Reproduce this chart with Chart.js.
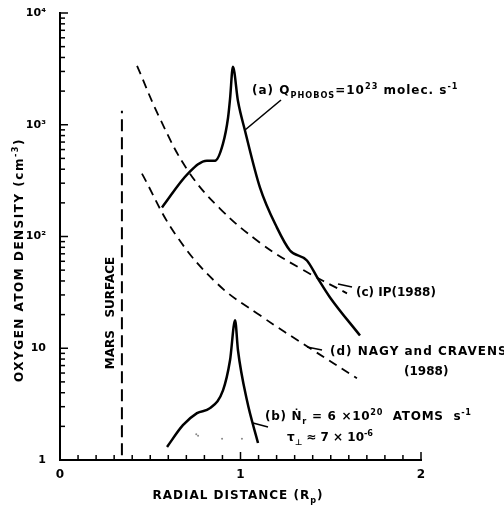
<!DOCTYPE html>
<html>
<head>
<meta charset="utf-8">
<script src="https://cdn.jsdelivr.net/npm/chart.js@4.4.1/dist/chart.umd.min.js"></script>
<style>
  html, body { margin: 0; padding: 0; background: #fff; }
  #div_grafico { width: 504px; height: 507px; }
</style>
</head>
<body>
<div id="div_grafico"><canvas id="grafico" width="504" height="507"></canvas></div>
<script>
// curve (a) - Phobos source, solid
const distA = [0.565, 0.709, 0.814, 0.859, 0.903, 0.931, 0.942, 0.958, 0.986, 1.025, 1.108, 1.202, 1.274, 1.368, 1.429, 1.496, 1.662];
const densA = [182, 365, 477, 477, 677, 1155, 1700, 3300, 1630, 884, 274, 120, 75, 61, 42, 28.5, 13];

// curve (b) - solid, lower
const distB = [0.593, 0.681, 0.759, 0.831, 0.903, 0.942, 0.970, 0.986, 1.036, 1.097];
const densB = [1.31, 2.05, 2.63, 2.91, 4.2, 7.8, 17.8, 9.6, 3.4, 1.42];

// faint dots under (b)
const distB2 = [0.755, 0.765, 0.898, 1.008];
const densB2 = [1.7, 1.65, 1.55, 1.55];

// curve (c) IP(1988), dashed
const distC = [0.427, 0.554, 0.709, 0.886, 1.108, 1.330, 1.590];
const densC = [3365, 1132, 388, 178, 88, 52, 31];

// curve (d) Nagy and Cravens (1988), dashed
const distD = [0.454, 0.637, 0.870, 1.108, 1.385, 1.645];
const densD = [365, 106, 38, 19.7, 10, 5.4];

// Mars surface marker
const distM = [0.343, 0.343];
const densM = [1.1, 1333];

// axis tick labels
const xLabels = { 0: "0", 1: "1", 2: "2" };
const yLabels = { 1: "1", 10: "10", 100: "10²", 1000: "10³", 10000: "10⁴" };

const FONTE = "'DejaVu Sans', 'Liberation Sans', sans-serif";

function pontos(xs, ys) {
  return xs.map(function (x, i) { return { x: x, y: ys[i] }; });
}

// escreve texto com sub/sobrescrito
function textoRico(ctx, x, y, partes, tam, esp) {
  var cx = x;
  ctx.letterSpacing = (esp || 0) + "px";
  partes.forEach(function (p) {
    var t = p[0], modo = p[1] || "n";
    var fs = tam, dy = 0;
    if (modo === "sup") { fs = tam * 0.68; dy = -tam * 0.45; }
    if (modo === "sub") { fs = tam * 0.68; dy = tam * 0.3; }
    ctx.font = "bold " + fs + "px " + FONTE;
    ctx.fillText(t, cx, y + dy);
    cx += ctx.measureText(t).width;
  });
  ctx.letterSpacing = "0px";
  return cx - x;
}

function larguraRica(ctx, partes, tam, esp) {
  var w = 0;
  ctx.letterSpacing = (esp || 0) + "px";
  partes.forEach(function (p) {
    var modo = p[1] || "n";
    var fs = (modo === "n") ? tam : tam * 0.68;
    ctx.font = "bold " + fs + "px " + FONTE;
    w += ctx.measureText(p[0]).width;
  });
  ctx.letterSpacing = "0px";
  return w;
}

function linha(ctx, x1, y1, x2, y2) {
  ctx.beginPath();
  ctx.moveTo(x1, y1);
  ctx.lineTo(x2, y2);
  ctx.stroke();
}

const marcasInternas = {
  id: "marcasInternas",
  afterDraw: function (chart) {
    const ctx = chart.ctx;
    const xs = chart.scales.x, ys = chart.scales.y;
    const esq = chart.chartArea.left, base = chart.chartArea.bottom;
    ctx.save();
    ctx.strokeStyle = "#000";
    ctx.lineWidth = 1.5;
    // ticks do eixo y (pra dentro)
    for (var e = 0; e < 4; e++) {
      for (var m = 1; m <= 9; m++) {
        var py = ys.getPixelForValue(m * Math.pow(10, e));
        linha(ctx, esq, py, esq + (m === 1 ? 8 : 5), py);
      }
    }
    var topo = ys.getPixelForValue(10000);
    linha(ctx, esq, topo, esq + 8, topo);
    // ticks do eixo x
    for (var i = 0; i <= 20; i++) {
      var px = xs.getPixelForValue(i / 10);
      linha(ctx, px, base, px, base - (i % 10 === 0 ? 8 : 5));
    }

    // textos e linhas de chamada
    ctx.fillStyle = "#000";
    ctx.textBaseline = "alphabetic";
    ctx.textAlign = "left";
    ctx.lineWidth = 1.6;

    textoRico(ctx, 252, 94, [["(a) Q"], ["PHOBOS", "sub"], ["=10"], ["23", "sup"], [" molec. s"], ["-1", "sup"]], 12, 1);
    linha(ctx, 245, 130, 281, 100);

    textoRico(ctx, 356, 296, [["(c) IP(1988)"]], 12, 0);
    linha(ctx, 338, 284, 352, 287);

    textoRico(ctx, 330, 355, [["(d) NAGY and CRAVENS"]], 12, 1);
    textoRico(ctx, 404, 375, [["(1988)"]], 12, 0);
    linha(ctx, 307, 347, 322, 350);

    textoRico(ctx, 265, 420, [["(b) Ṅ"], ["r", "sub"], [" = 6 ×10"], ["20", "sup"], ["  ATOMS  s"], ["-1", "sup"]], 12, 0.7);
    textoRico(ctx, 287, 441, [["τ"], ["⊥", "sub"], [" ≈ 7 × 10"], ["-6", "sup"]], 12, 0);
    linha(ctx, 253, 423, 268, 427);

    // MARS SURFACE vertical
    ctx.save();
    ctx.translate(114, 313);
    ctx.rotate(-Math.PI / 2);
    var pm = [["MARS   SURFACE"]];
    textoRico(ctx, -larguraRica(ctx, pm, 12, 0) / 2, 0, pm, 12, 0);
    ctx.restore();

    // titulo do eixo y
    ctx.save();
    ctx.translate(23, 260);
    ctx.rotate(-Math.PI / 2);
    var ty = [["OXYGEN ATOM DENSITY (cm"], ["-3", "sup"], [")"]];
    textoRico(ctx, -larguraRica(ctx, ty, 12, 1.5) / 2, 0, ty, 12, 1.5);
    ctx.restore();

    // titulo do eixo x
    var tx = [["RADIAL DISTANCE (R"], ["p", "sub"], [")"]];
    textoRico(ctx, 238 - larguraRica(ctx, tx, 12, 1) / 2, 499, tx, 12, 1);

    ctx.restore();
  }
};

const solido = { borderColor: "#000", borderWidth: 2.5, pointRadius: 0, cubicInterpolationMode: "monotone", fill: false };
const tracejado = { borderColor: "#000", borderWidth: 1.8, borderDash: [9, 6], pointRadius: 0, tension: 0.4, fill: false };

const dados = {
  datasets: [
    Object.assign({ label: "(a)", data: pontos(distA, densA) }, solido),
    Object.assign({ label: "(b)", data: pontos(distB, densB) }, solido),
    { label: "dots", data: pontos(distB2, densB2), showLine: false, pointRadius: 1, pointBackgroundColor: "#888", pointBorderWidth: 0 },
    Object.assign({ label: "(c)", data: pontos(distC, densC) }, tracejado),
    Object.assign({ label: "(d)", data: pontos(distD, densD) }, tracejado),
    { label: "Mars surface", data: pontos(distM, densM), borderColor: "#000", borderWidth: 2, borderDash: [12, 6], pointRadius: 0 }
  ]
};

const graficoLinha = new Chart(document.getElementById("grafico"), {
  type: "line",
  data: dados,
  options: {
    responsive: false,
    animation: false,
    devicePixelRatio: 1,
    layout: { padding: { top: 13, right: 83, left: 0, bottom: 0 } },
    plugins: { legend: { display: false }, tooltip: { enabled: false } },
    scales: {
      x: {
        type: "linear",
        min: 0,
        max: 2,
        afterFit: function (s) { s.height = 47; },
        grid: { display: false },
        border: { display: true, color: "#000", width: 2 },
        ticks: {
          stepSize: 1,
          padding: 0,
          color: "#000",
          font: { family: FONTE, size: 12, weight: "bold" },
          callback: function (v) { return xLabels[v] !== undefined ? xLabels[v] : ""; }
        }
      },
      y: {
        type: "logarithmic",
        min: 1,
        max: 10000,
        afterFit: function (s) { s.width = 60; },
        grid: { display: false },
        border: { display: true, color: "#000", width: 2 },
        ticks: {
          autoSkip: false,
          padding: 6,
          color: "#000",
          font: { family: FONTE, size: 11, weight: "bold" },
          callback: function (v) { return yLabels[v] !== undefined ? yLabels[v] : ""; }
        }
      }
    }
  },
  plugins: [marcasInternas]
});
</script>
</body>
</html>
